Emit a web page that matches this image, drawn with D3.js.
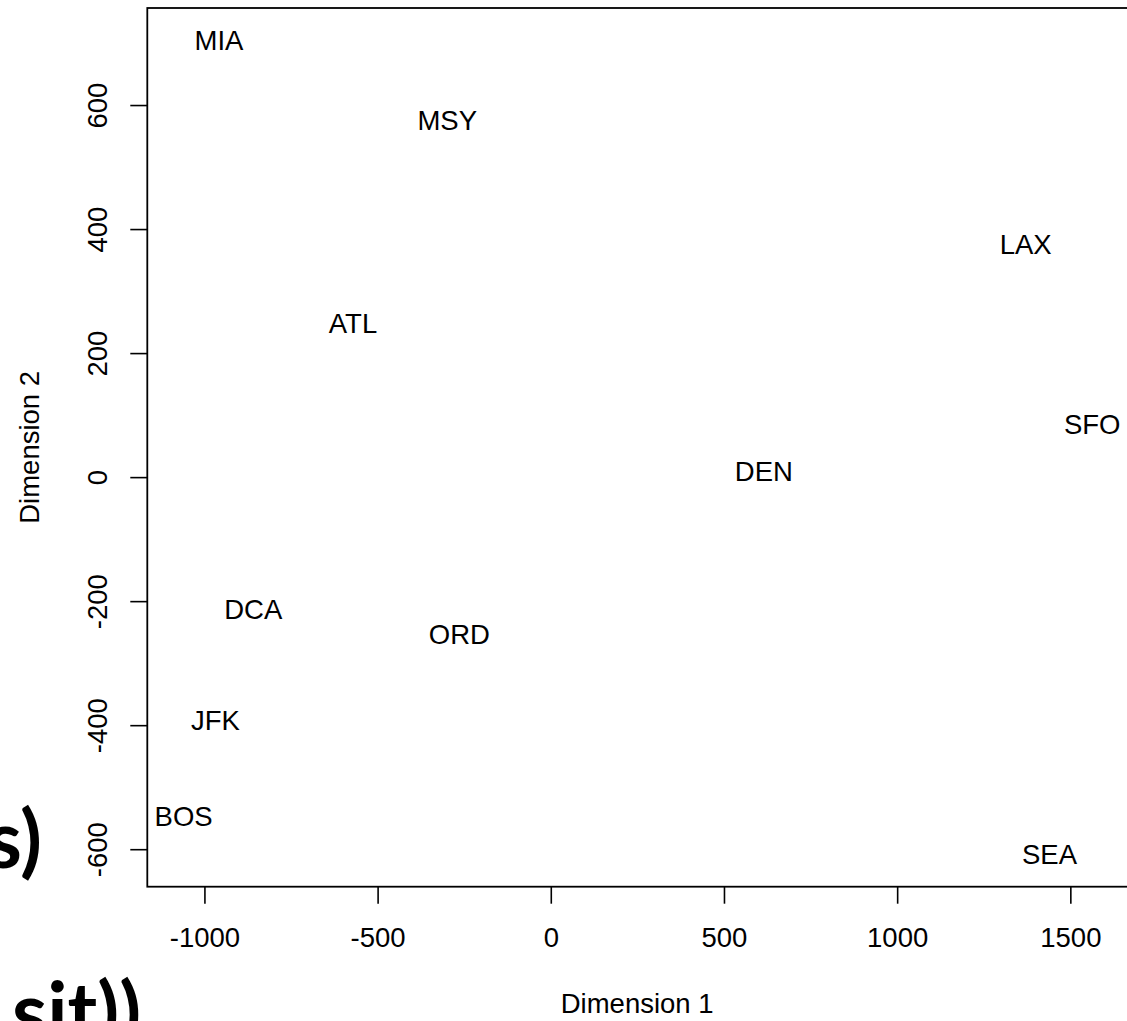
<!DOCTYPE html>
<html>
<head>
<meta charset="utf-8">
<script src="https://cdn.jsdelivr.net/npm/d3@7"></script>
<style>
  html, body { margin: 0; padding: 0; background: #fff; overflow: hidden; }
  svg { display: block; }
</style>
</head>
<body>
<svg id="chart" width="1127" height="1021"></svg>
<script>
// ---- data ----
const airports = ["MIA", "MSY", "LAX", "SFO", "ATL", "DEN", "DCA", "ORD", "JFK", "BOS", "SEA"];
const dim1 = [-958, -299, 1371, 1563, -571, 615, -859, -264, -968, -1060, 1440];
const dim2 = [704, 575, 375, 86, 249, 9, -213, -254, -392, -546, -608];
const xTicks = [-1000, -500, 0, 500, 1000, 1500];
const yTicks = [-600, -400, -200, 0, 200, 400, 600];
const xTitle = "Dimension 1";
const yTitle = "Dimension 2";
const fragments = ["s)", "sit))"];

// ---- layout ----
const W = 1127, H = 1021;
const pLeft = 147.3, pRight = 1128.5, pTop = 8, pBottom = 886.7;
const FONT = "'Liberation Sans', Arial, sans-serif";
const FS = 27.5;
const fmt = d => String(d);

// R-style 4% extension of the data range
const xr = [d3.min(dim1), d3.max(dim1)];
const yr = [d3.min(dim2), d3.max(dim2)];
const xe = (xr[1] - xr[0]) * 0.04, ye = (yr[1] - yr[0]) * 0.04;

const x = d3.scaleLinear().domain([xr[0] - xe, xr[1] + xe]).range([pLeft, pRight]);
const y = d3.scaleLinear().domain([yr[0] - ye, yr[1] + ye]).range([pBottom, pTop]);

const svg = d3.select("#chart");
svg.append("rect").attr("width", W).attr("height", H).attr("fill", "#fff");

// decorative fragments at left edge (overlapping slide text)
svg.append("text").text(fragments[0])
  .attr("x", 42).attr("y", 868).attr("text-anchor", "end")
  .attr("font-family", "Lato, 'Open Sans', sans-serif").attr("font-weight", 700)
  .attr("font-size", 80).attr("fill", "#000");
svg.append("text").text(fragments[1])
  .attr("x", 12).attr("y", 1040).attr("text-anchor", "start")
  .attr("font-family", "Lato, 'Open Sans', sans-serif").attr("font-weight", 700)
  .attr("font-size", 80).attr("fill", "#000");

// frame
svg.append("rect")
  .attr("x", pLeft).attr("y", pTop)
  .attr("width", pRight - pLeft).attr("height", pBottom - pTop)
  .attr("fill", "none").attr("stroke", "#000").attr("stroke-width", 1.8);

// x axis
const gx = svg.append("g").attr("transform", `translate(0,${pBottom})`)
  .call(d3.axisBottom(x).tickValues(xTicks).tickSize(17).tickPadding(24).tickFormat(fmt));
gx.select(".domain").remove();
gx.selectAll("line").attr("stroke", "#000").attr("stroke-width", 1.6);
gx.selectAll("text").attr("font-family", FONT).attr("font-size", FS).attr("fill", "#000");

// y axis
const gy = svg.append("g").attr("transform", `translate(${pLeft},0)`)
  .call(d3.axisLeft(y).tickValues(yTicks).tickSize(17).tickFormat(fmt));
gy.select(".domain").remove();
gy.selectAll("line").attr("stroke", "#000").attr("stroke-width", 1.6);
gy.selectAll("text")
  .attr("font-family", FONT).attr("font-size", FS).attr("fill", "#000")
  .attr("x", 0).attr("y", -40).attr("dy", 0)
  .attr("text-anchor", "middle")
  .attr("transform", "rotate(-90)");

// axis titles
svg.append("text").text(xTitle)
  .attr("x", (pLeft + 1127) / 2).attr("y", 1013)
  .attr("text-anchor", "middle")
  .attr("font-family", FONT).attr("font-size", FS).attr("fill", "#000");
svg.append("text").text(yTitle)
  .attr("transform", `translate(39.3,${(pTop + pBottom) / 2}) rotate(-90)`)
  .attr("text-anchor", "middle")
  .attr("font-family", FONT).attr("font-size", FS).attr("fill", "#000");

// labels
svg.append("g").selectAll("text")
  .data(airports.map((a, i) => ({ a, x: dim1[i], y: dim2[i] })))
  .join("text")
  .attr("x", d => x(d.x))
  .attr("y", d => y(d.y))
  .attr("dy", "0.358em")
  .attr("text-anchor", "middle")
  .attr("font-family", FONT).attr("font-size", FS).attr("fill", "#000")
  .text(d => d.a);
</script>
</body>
</html>
